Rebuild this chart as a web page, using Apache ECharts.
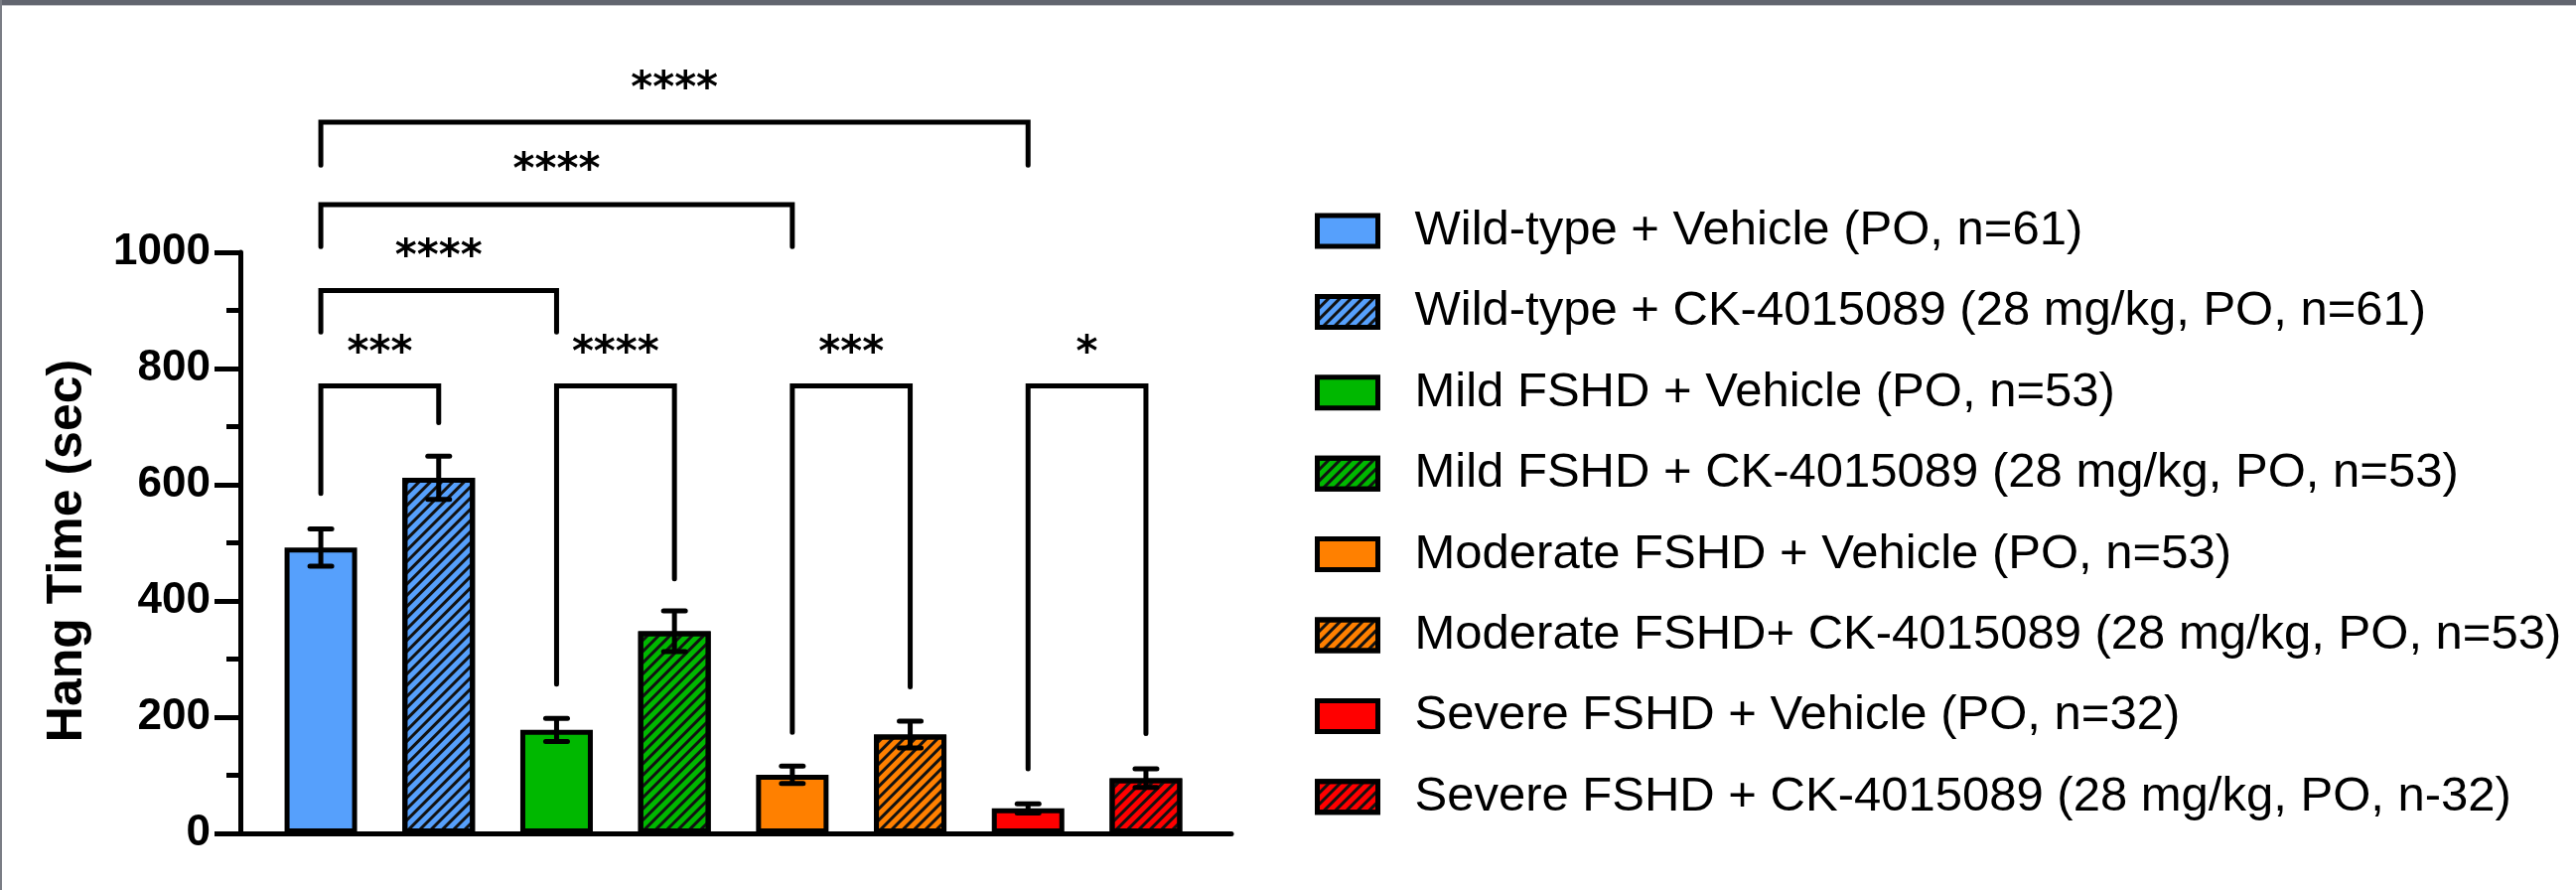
<!DOCTYPE html>
<html>
<head>
<meta charset="utf-8">
<script src="https://cdn.jsdelivr.net/npm/echarts@6/dist/echarts.min.js"></script>
<style>
html,body{margin:0;padding:0;background:#fff;}
#c{width:2594px;height:896px;}
</style>
</head>
<body>
<div id="c"></div>
<script>
// ---- data ----
const groups = [
  'Wild-type + Vehicle (PO, n=61)',
  'Wild-type + CK-4015089 (28 mg/kg, PO, n=61)',
  'Mild FSHD + Vehicle (PO, n=53)',
  'Mild FSHD + CK-4015089 (28 mg/kg, PO, n=53)',
  'Moderate FSHD + Vehicle (PO, n=53)',
  'Moderate FSHD+ CK-4015089 (28 mg/kg, PO, n=53)',
  'Severe FSHD + Vehicle (PO, n=32)',
  'Severe FSHD + CK-4015089 (28 mg/kg, PO, n-32)'
];
const hangTime = [492, 612, 178, 348, 101, 170, 43, 95];
const sem = [32, 37, 20, 35, 15, 23, 8, 16];
const barColors = ['#56A0FC', '#56A0FC', '#00B800', '#00B800', '#FF8000', '#FF8000', '#FF0000', '#FF0000'];
const hatched = [false, true, false, true, false, true, false, true];
// brackets: [leftIndex, rightIndex, topValue, leftLegEnd, rightLegEnd, starValue]
const brackets = [
  [0, 1, 770, 585, 707, 824],
  [2, 3, 770, 257, 438, 824],
  [4, 5, 770, 174, 252, 824],
  [6, 7, 770, 111, 172, 824],
  [0, 2, 934, 863, 863, 990],
  [0, 4, 1082, 1010, 1010, 1138],
  [0, 6, 1224, 1150, 1150, 1278]
];
const bracketLabels = ['***', '****', '***', '*', '****', '****', '****'];
const yTicks = {min: 0, max: 1000, interval: 200};

// ---- chart ----
const chart = echarts.init(document.getElementById('c'), null, {renderer: 'canvas'});

const hatchDecal = {
  symbol: 'rect',
  symbolSize: 1,
  dashArrayX: [1, 0],
  dashArrayY: [3, 5],
  rotation: -Math.PI / 4,
  color: '#111'
};

const barSeries = groups.map((name, i) => ({
  type: 'bar',
  name: name,
  data: [[i, hangTime[i]]],
  barWidth: 73,
  barGap: '-100%',
  itemStyle: {
    color: barColors[i],
    borderColor: '#000',
    borderWidth: 5,
    decal: hatched[i] ? hatchDecal : null
  },
  emphasis: {disabled: true},
  z: 2
}));

const errSeries = {
  type: 'custom',
  name: 'err',
  data: hangTime.map((v, i) => [i, v, sem[i]]),
  z: 5,
  silent: true,
  renderItem: function (params, api) {
    const x = api.value(0), v = api.value(1), e = api.value(2);
    const top = api.coord([x, v + e]);
    const bot = api.coord([x, v - e]);
    const half = 11;
    const st = {stroke: '#000', lineWidth: 5, fill: null};
    return {
      type: 'group',
      children: [
        {type: 'line', shape: {x1: top[0], y1: top[1], x2: bot[0], y2: bot[1]}, style: st},
        {type: 'line', shape: {x1: top[0] - half, y1: top[1], x2: top[0] + half, y2: top[1]}, style: Object.assign({lineCap: 'round'}, st)},
        {type: 'line', shape: {x1: bot[0] - half, y1: bot[1], x2: bot[0] + half, y2: bot[1]}, style: Object.assign({lineCap: 'round'}, st)}
      ]
    };
  }
};

const bracketSeries = {
  type: 'custom',
  name: 'brackets',
  data: brackets,
  z: 6,
  silent: true,
  clip: false,
  renderItem: function (params, api) {
    const a = api.value(0), b = api.value(1), t = api.value(2), l = api.value(3), r = api.value(4), s = api.value(5);
    const p1 = api.coord([a, l]);
    const p2 = api.coord([a, t]);
    const p3 = api.coord([b, t]);
    const p4 = api.coord([b, r]);
    const ps = api.coord([(a + b) / 2, s]);
    return {
      type: 'group',
      children: [
        {type: 'polyline', shape: {points: [p1, p2, p3, p4]},
          style: {stroke: '#000', lineWidth: 5, fill: null, lineJoin: 'miter', lineCap: 'round'}},
        {type: 'text', x: ps[0], y: ps[1],
          style: {text: bracketLabels[params.dataIndex], fill: '#000', font: 'bold 42px "DejaVu Sans"',
            align: 'center', verticalAlign: 'middle'}}
      ]
    };
  }
};

const option = {
  backgroundColor: '#fff',
  animation: false,
  grid: {left: 242, right: 1354, top: 254, bottom: 57, containLabel: false},
  xAxis: {
    type: 'value',
    min: -0.683,
    max: 7.725,
    axisLine: {show: true, onZero: false, lineStyle: {color: '#000', width: 5}},
    axisTick: {show: false},
    axisLabel: {show: false},
    splitLine: {show: false}
  },
  yAxis: {
    type: 'value',
    min: yTicks.min,
    max: yTicks.max,
    interval: yTicks.interval,
    name: 'Hang Time (sec)',
    nameLocation: 'middle',
    nameGap: 149,
    nameTextStyle: {fontFamily: 'Liberation Sans', fontWeight: 'bold', fontSize: 50, color: '#000', padding: [0, 16, 0, 0]},
    axisLine: {show: true, onZero: false, lineStyle: {color: '#000', width: 5}},
    axisTick: {show: true, length: 26, lineStyle: {color: '#000', width: 5}},
    minorTick: {show: true, splitNumber: 2, length: 14, lineStyle: {color: '#000', width: 5}},
    axisLabel: {margin: 30, fontFamily: 'Liberation Sans', fontWeight: 'bold', fontSize: 44, color: '#000',
      formatter: function (v) { return String(v); }},
    splitLine: {show: false}
  },
  legend: {
    data: groups,
    orient: 'vertical',
    left: 1319,
    top: 203,
    itemWidth: 61,
    itemHeight: 31,
    itemGap: 32.4,
    icon: 'rect',
    selectedMode: false,
    itemStyle: {borderWidth: 5, borderColor: '#000'},
    textStyle: {fontFamily: 'Liberation Sans', fontSize: 49, color: '#000', lineHeight: 48, padding: [0, 0, 0, 32]}
  },
  graphic: [
    {type: 'rect', shape: {x: 0, y: 0, width: 2594, height: 5}, style: {fill: '#62656f'}, z: 100},
    {type: 'rect', shape: {x: 0, y: 5, width: 2594, height: 1}, style: {fill: '#c4c5c9'}, z: 100},
    {type: 'rect', shape: {x: 0, y: 0, width: 2, height: 896}, style: {fill: '#7a7d85'}, z: 100}
  ],
  series: barSeries.concat([errSeries, bracketSeries])
};
chart.setOption(option);
</script>
</body>
</html>
